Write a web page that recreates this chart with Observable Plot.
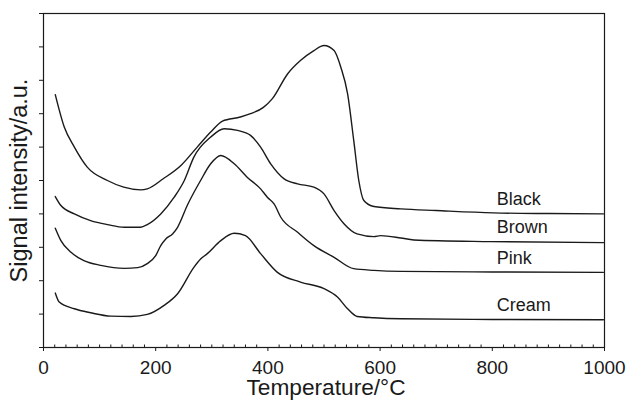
<!DOCTYPE html>
<html>
<head>
<meta charset="utf-8">
<script src="https://cdn.jsdelivr.net/npm/d3@7"></script>
<script src="https://cdn.jsdelivr.net/npm/@observablehq/plot@0.6"></script>
<style>
  html, body { margin: 0; padding: 0; background: #fff; }
  #chart svg { display: block; }
</style>
</head>
<body>
<div id="chart"></div>
<script>
// Evolved-gas signal vs. temperature for four pigment samples (arbitrary units, stacked).
const sampleNames = ["Black", "Brown", "Pink", "Cream"];

const blackTemp   = [21, 37, 55, 78, 114, 143, 173, 185, 214, 245, 274, 298, 319, 351, 369, 392, 408, 435, 458, 482, 500, 518, 530, 542, 553, 562, 571, 589, 637, 700, 802, 900, 998];
const blackSignal = [7.57, 6.60, 6.00, 5.40, 5.00, 4.80, 4.72, 4.75, 5.06, 5.45, 6.00, 6.45, 6.78, 6.90, 7.00, 7.19, 7.45, 8.19, 8.59, 8.89, 9.04, 8.89, 8.39, 7.60, 6.20, 5.00, 4.40, 4.22, 4.15, 4.10, 4.03, 4.01, 4.00];

const brownTemp   = [21, 31, 55, 84, 114, 144, 173, 185, 209, 233, 251, 268, 298, 322, 346, 369, 387, 405, 429, 453, 482, 500, 518, 536, 559, 589, 601, 637, 660, 797, 998];
const brownSignal = [4.52, 4.25, 4.00, 3.80, 3.68, 3.60, 3.60, 3.68, 4.00, 4.50, 5.00, 5.70, 6.30, 6.55, 6.50, 6.35, 6.00, 5.50, 5.05, 4.90, 4.80, 4.60, 4.10, 3.70, 3.40, 3.32, 3.35, 3.28, 3.22, 3.17, 3.14];

const pinkTemp    = [21, 31, 49, 72, 102, 144, 168, 185, 200, 209, 218, 230, 239, 257, 280, 298, 316, 340, 363, 387, 399, 411, 423, 453, 482, 518, 553, 589, 637, 800, 998];
const pinkSignal  = [3.57, 3.20, 2.85, 2.60, 2.46, 2.37, 2.39, 2.51, 2.75, 3.05, 3.25, 3.40, 3.60, 4.28, 5.00, 5.50, 5.75, 5.50, 5.10, 4.75, 4.50, 4.30, 3.90, 3.45, 3.05, 2.70, 2.36, 2.31, 2.28, 2.26, 2.25];

const creamTemp   = [21, 28, 55, 84, 120, 156, 185, 215, 239, 268, 280, 292, 316, 340, 360, 387, 417, 458, 500, 524, 542, 559, 589, 637, 800, 998];
const creamSignal = [1.63, 1.36, 1.16, 1.04, 0.94, 0.93, 0.99, 1.26, 1.61, 2.40, 2.65, 2.81, 3.20, 3.42, 3.35, 2.81, 2.25, 1.96, 1.76, 1.51, 1.16, 0.93, 0.89, 0.86, 0.84, 0.83];

// Axis ticks (the y axis carries unlabeled ticks only)
const xTicks = [0, 200, 400, 600, 800, 1000];
const xMinorTicks = d3.range(0, 1001, 20).filter(t => t % 200 !== 0);
const yTicks = [0, 1, 2, 3, 4, 5, 6, 7, 8, 9, 10];

// Where the sample names sit along each trace
const labelTemp = 808;

const series = [
  [blackTemp, blackSignal],
  [brownTemp, brownSignal],
  [pinkTemp, pinkSignal],
  [creamTemp, creamSignal]
];

const rows = series.flatMap(([temps, signals], i) =>
  temps.map((t, j) => ({sample: sampleNames[i], temp: t, signal: signals[j]}))
);

// Label anchors: the trace value at labelTemp (linear lookup in each series)
const labels = series.map(([temps, signals], i) => {
  const k = d3.bisectLeft(temps, labelTemp);
  const t0 = temps[k - 1], t1 = temps[k];
  const f = (labelTemp - t0) / (t1 - t0);
  return {sample: sampleNames[i], temp: labelTemp, signal: signals[k - 1] + f * (signals[k] - signals[k - 1])};
});

const font = "'Liberation Sans', Arial, Helvetica, sans-serif";
const ink = "#1a1a1a";

const W = 630, H = 405;
const margin = {top: 13, right: 26, bottom: 58, left: 43};
const innerH = H - margin.top - margin.bottom;

const chart = Plot.plot({
  width: W,
  height: H,
  marginLeft: margin.left,
  marginRight: margin.right,
  marginTop: margin.top,
  marginBottom: margin.bottom,
  style: {fontFamily: font, fontSize: "19px", color: ink, background: "#fff"},
  x: {domain: [0, 1000]},
  y: {domain: [0, 10]},
  marks: [
    Plot.frame({stroke: ink, strokeWidth: 1.2}),
    // small inward minor ticks along the bottom edge
    Plot.tickX(xMinorTicks, {x: d => d, insetTop: innerH - 2.5, stroke: ink, strokeWidth: 1}),
    Plot.axisX({ticks: xTicks, tickSize: 4, tickPadding: 9, tickFormat: d3.format("d"), label: null, fontSize: 19, stroke: ink}),
    Plot.axisY({ticks: yTicks, tickSize: 4, tickFormat: () => "", label: null, stroke: ink}),
    Plot.line(rows, {x: "temp", y: "signal", z: "sample", stroke: ink, strokeWidth: 1.4, curve: "monotone-x"}),
    Plot.text(labels, {x: "temp", y: "signal", text: "sample", textAnchor: "start", dy: -14, fontSize: 18, fill: ink}),
    Plot.text(["Temperature/°C"], {text: d => d, frameAnchor: "bottom", textAnchor: "middle", dy: 47, dx: 2, fontSize: 22.7, fill: ink}),
    Plot.text(["Signal intensity/a.u."], {text: d => d, frameAnchor: "left", textAnchor: "middle", rotate: -90, dx: -24, fontSize: 23.5, fill: ink})
  ]
});

document.getElementById("chart").appendChild(chart);
</script>
</body>
</html>
